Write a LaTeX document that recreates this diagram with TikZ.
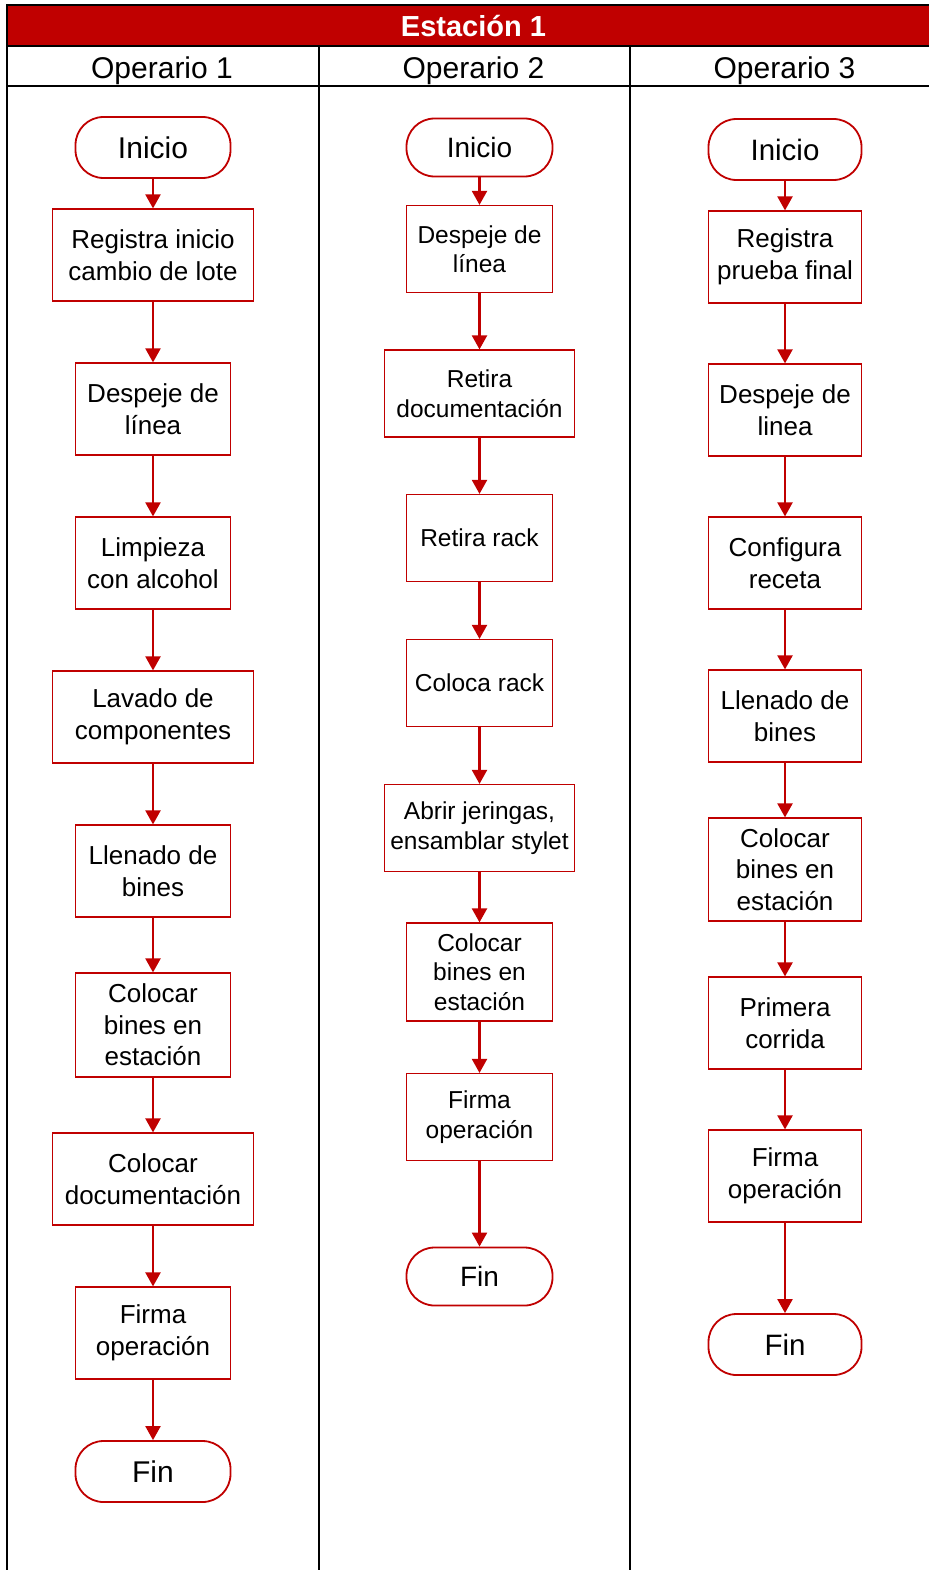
\documentclass[tikz,border=0pt]{standalone}
\usepackage{fontspec}
\setmainfont{Liberation Sans}
\usetikzlibrary{arrows.meta}
\definecolor{bandred}{HTML}{C00000}
\definecolor{linered}{HTML}{C00000}

\begin{document}
\begin{tikzpicture}[x=1pt,y=-1pt,
  grid/.style={draw=black, line width=2pt},
  proc/.style={draw=linered, line width=1.2pt, fill=white, inner sep=0pt,
    align=center, minimum height=92pt},
  colA/.style={font=\fontsize{26}{31.5}\selectfont},
  colB/.style={font=\fontsize{24.5}{29.5}\selectfont},
  term/.style={draw=linered, line width=1.8pt, fill=white, inner sep=0pt,
    rounded corners=28pt, minimum height=61pt},
  lane/.style={font=\fontsize{30}{34}\selectfont},
  flow/.style={draw=linered, line width=2.2pt, -{Triangle[length=14pt,width=15pt]}}
]
\useasboundingbox (0,0) rectangle (929,1570);

% ---- table frame ----
\fill[bandred] (6,6) rectangle (929,46.5);
\draw[grid] (6,5.5) -- (929,5.5);
\draw[grid] (6,46.5) -- (929,46.5);
\draw[grid] (6,86) -- (929,86);
\draw[grid] (6.5,4.5) -- (6.5,1570);
\draw[grid] (318.5,46.5) -- (318.5,1570);
\draw[grid] (629.5,46.5) -- (629.5,1570);

\node[text=white, font=\fontsize{29}{34}\selectfont\bfseries] (title) at (473.5,26) {Estación 1};
\node[lane] (op1) at (162,71) {Operario 1};
\node[lane] (op2) at (473.5,71) {Operario 2};
\node[lane] (op3) at (784.5,71) {Operario 3};

% ---- Operario 1 ----
\node[term, minimum width=155pt, font=\fontsize{30}{34}\selectfont] (i1) at (153,147.5) {Inicio};
\node[proc, colA, minimum width=201pt] (a1) at (153,255) {Registra inicio\\cambio de lote};
\node[proc, colA, minimum width=155pt] (a2) at (153,409) {Despeje de\\línea};
\node[proc, colA, minimum width=155pt] (a3) at (153,563) {Limpieza\\con alcohol};
\node[proc, colA, minimum width=201pt] (a4) at (153,717) {Lavado de\\componentes};
\node[proc, colA, minimum width=155pt] (a5) at (153,871) {Llenado de\\bines};
\node[proc, colA, minimum width=155pt, minimum height=104pt] (a6) at (153,1025) {Colocar\\bines en\\estación};
\node[proc, colA, minimum width=201pt] (a7) at (153,1179) {Colocar\\documentación};
\node[proc, colA, minimum width=155pt] (a8) at (153,1333) {Firma\\operación};
\node[term, minimum width=155pt, font=\fontsize{30}{34}\selectfont] (f1) at (153,1471.5) {Fin};

% ---- Operario 2 ----
\node[term, minimum width=146pt, minimum height=58pt, font=\fontsize{28}{32}\selectfont] (i2) at (479.5,147.5) {Inicio};
\node[proc, colB, minimum width=146pt, minimum height=87pt] (b1) at (479.5,249) {Despeje de\\línea};
\node[proc, colB, minimum width=190pt, minimum height=87pt] (b2) at (479.5,393.5) {Retira\\documentación};
\node[proc, colB, minimum width=146pt, minimum height=87pt] (b3) at (479.5,538) {Retira rack};
\node[proc, colB, minimum width=146pt, minimum height=87pt] (b4) at (479.5,683) {Coloca rack};
\node[proc, colB, minimum width=190pt, minimum height=87pt] (b5) at (479.5,828) {Abrir jeringas,\\ensamblar stylet};
\node[proc, colB, minimum width=146pt, minimum height=98pt] (b6) at (479.5,972) {Colocar\\bines en\\estación};
\node[proc, colB, minimum width=146pt, minimum height=87pt] (b7) at (479.5,1117) {Firma\\operación};
\node[term, minimum width=146pt, minimum height=58pt, font=\fontsize{28}{32}\selectfont] (f2) at (479.5,1276.5) {Fin};

% ---- Operario 3 ----
\node[term, minimum width=153pt, font=\fontsize{29.5}{34}\selectfont] (i3) at (785,149.5) {Inicio};
\node[proc, colA, minimum width=153pt] (c1) at (785,257) {Registra\\prueba final};
\node[proc, colA, minimum width=153pt] (c2) at (785,410) {Despeje de\\linea};
\node[proc, colA, minimum width=153pt] (c3) at (785,563) {Configura\\receta};
\node[proc, colA, minimum width=153pt] (c4) at (785,716) {Llenado de\\bines};
\node[proc, colA, minimum width=153pt, minimum height=103pt] (c5) at (785,869.5) {Colocar\\bines en\\estación};
\node[proc, colA, minimum width=153pt] (c6) at (785,1023) {Primera\\corrida};
\node[proc, colA, minimum width=153pt] (c7) at (785,1176) {Firma\\operación};
\node[term, minimum width=153pt, font=\fontsize{29.5}{34}\selectfont] (f3) at (785,1344.5) {Fin};

% ---- connectors ----
\foreach \u/\v in {i1/a1,a1/a2,a2/a3,a3/a4,a4/a5,a5/a6,a6/a7,a7/a8,a8/f1,
                   i2/b1,b1/b2,b2/b3,b3/b4,b4/b5,b5/b6,b6/b7,b7/f2,
                   i3/c1,c1/c2,c2/c3,c3/c4,c4/c5,c5/c6,c6/c7,c7/f3}
  \draw[flow] (\u.south) -- (\v.north);
\end{tikzpicture}
\end{document}
